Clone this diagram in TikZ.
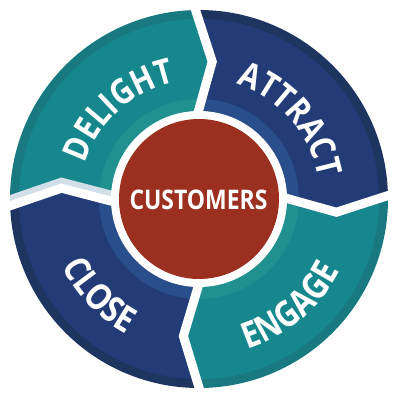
\documentclass[tikz,border=0pt]{standalone}
\usepackage{fontspec}
\newfontfamily\lblfont{Open Sans}[FakeStretch=0.85]
\usetikzlibrary{decorations.text}
\definecolor{tealM}{HTML}{17878E}
\definecolor{tealD}{HTML}{187A80}
\definecolor{tealL}{HTML}{20918F}
\definecolor{blueM}{HTML}{233C78}
\definecolor{blueD}{HTML}{1E3560}
\definecolor{blueL}{HTML}{2A4E8C}
\definecolor{redC}{HTML}{9B3020}
\definecolor{lightB}{HTML}{D2DEE8}
\newcommand\segpath[2]{(#1:189) arc[start angle=#1, end angle=#2, radius=189] -- ({#2-7.5}:138) -- (#2:88) arc[start angle=#2, end angle=#1, radius=88] -- ({#1-7.5}:138) -- cycle}
\newcommand\ringfont{\lblfont\bfseries\fontsize{35}{35}\selectfont}
\newcommand\ringfontB{\lblfont\bfseries\fontsize{36}{36}\selectfont}
\newcommand\segfill[5]{%
  \begin{scope}
    \clip \segpath{#1}{#2};
    \fill[#3] (0,0) circle (190);
    \fill[#4] (0,0) circle (180);
    \fill[#5] (0,0) circle (100);
  \end{scope}}
\tikzset{
  gap/.style={white, line width=9pt, line join=miter},
  ringlabel/.style={decorate, decoration={text along path, text align=center, text color=white, text={#1}}}
}
\begin{document}
\begin{tikzpicture}[x=1pt,y=1pt]
\useasboundingbox (-199,-201) rectangle (201,199);
\segfill{183}{92}{tealD}{tealM}{tealL}
\segfill{92}{2}{blueD}{blueM}{blueL}
\segfill{2}{-89}{tealD}{tealM}{tealL}
\segfill{271}{183}{blueD}{blueM}{blueL}
\begin{scope}
  \clip (0,0) circle (189);
  \draw[lightB, line width=9pt, line join=miter, yshift=6pt] (183:200) -- (175.5:138) -- (183:80);
\end{scope}
\foreach \s in {183,92,2,-89}{
  \draw[gap] (\s:200) -- ({\s-7.5}:138) -- (\s:80);
}
\fill[white] (0,0) circle (88);
\fill[redC] (0,0) circle (80);
\node[text=white, inner sep=0pt] (cust) at (-0.5,-1) {\lblfont\bfseries\fontsize{27}{27}\selectfont CUSTOMERS};
\path[ringlabel={|\ringfont|DELIGHT}] (172:119) arc[start angle=172, end angle=92, radius=119];
\path[ringlabel={|\ringfont|ATTRACT}] (81:121) arc[start angle=81, end angle=1, radius=121];
\path[ringlabel={|\ringfontB|CLOSE}] (184:153) arc[start angle=184, end angle=264, radius=153];
\path[ringlabel={|\ringfontB|ENGAGE}] (270.5:158) arc[start angle=270.5, end angle=350.5, radius=158];
\end{tikzpicture}
\end{document}
